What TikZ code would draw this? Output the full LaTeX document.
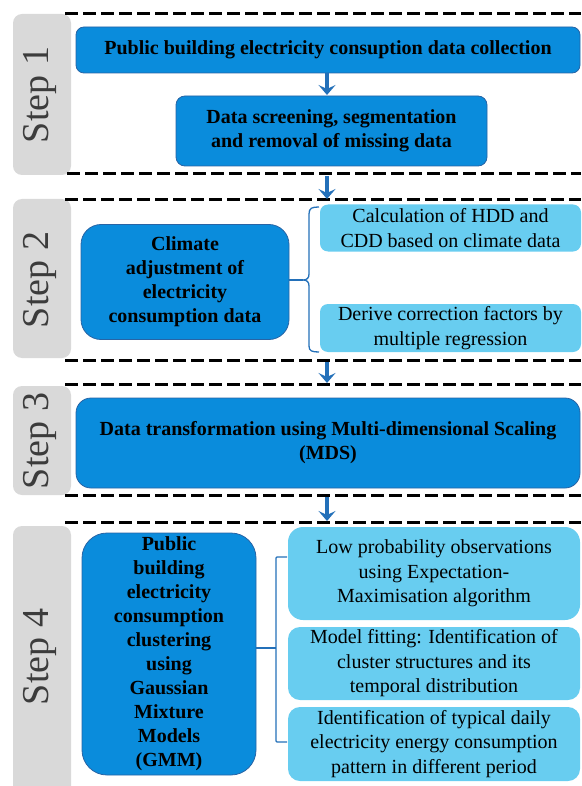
\documentclass[tikz,border=0pt]{standalone}
\usepackage{fontspec}
\setmainfont{Liberation Serif}
\newfontfamily\tnr{Liberation Serif}
\usetikzlibrary{arrows.meta}
\definecolor{dkblue}{RGB}{10,140,220}
\definecolor{dkborder}{RGB}{40,100,165}
\definecolor{ltblue}{RGB}{104,205,240}
\definecolor{tabgrey}{RGB}{217,217,217}
\definecolor{arrblue}{RGB}{35,112,185}
\definecolor{steptext}{RGB}{60,60,60}
\tikzset{
  tabbox/.style={fill=tabgrey, rounded corners=9pt},
  steplabel/.style={rotate=90, text=steptext, font=\tnr\fontsize{38}{40}\selectfont, inner sep=0pt},
  darkbox/.style={fill=dkblue, draw=dkborder, line width=0.8pt, align=center, inner sep=0pt,
    font=\tnr\fontsize{20}{24}\selectfont\bfseries},
  lightbox/.style={fill=ltblue, align=center, inner sep=0pt, font=\tnr\fontsize{20}{24.5}\selectfont},
  sepline/.style={line width=3pt, dash pattern=on 13pt off 5pt},
  flowarrow/.style={arrblue, line width=3.5pt, -{Stealth[length=10pt,width=17pt,inset=4pt]}},
  bracketline/.style={arrblue, line width=1.3pt},
}
\begin{document}
\begin{tikzpicture}[x=1pt,y=-1pt]
\useasboundingbox (0,0) rectangle (581,786);
% step tabs
\fill[tabbox] (13,14) rectangle (71,175);
\fill[tabbox] (13,199) rectangle (71,358);
\fill[tabbox] (13,386) rectangle (71,495);
\fill[tabbox] (13,526) rectangle (71,800);
\node[steplabel] (st1) at (40,95) {Step 1};
\node[steplabel] (st2) at (40,280) {Step 2};
\node[steplabel] (st3) at (40,441) {Step 3};
\node[steplabel] (st4) at (40,657) {Step 4};
% dashed separators
\coordinate (d1a) at (65,14);  \coordinate (d1b) at (581,14);
\coordinate (d2a) at (67,174); \coordinate (d2b) at (581,174);
\coordinate (d3a) at (65,200); \coordinate (d3b) at (581,200);
\coordinate (d4a) at (65,360); \coordinate (d4b) at (581,360);
\coordinate (d5a) at (65,384); \coordinate (d5b) at (581,384);
\coordinate (d6a) at (65,495); \coordinate (d6b) at (581,495);
\coordinate (d7a) at (65,522); \coordinate (d7b) at (581,522);
\foreach \p in {1,...,7} {\draw[sepline] (d\p a) -- (d\p b);}
% step 1
\node[darkbox, rounded corners=8pt, minimum width=504pt, minimum height=46pt] (b1) at (328,50)
  {Public building electricity consuption data collection};
\node[darkbox, rounded corners=9pt, minimum width=311pt, minimum height=70pt] (b2) at (331.5,131)
  {Data screening, segmentation\\and removal of missing data};
\draw[flowarrow] (327,73) -- (327,95);
% step 2
\node[darkbox, rounded corners=20pt, minimum width=208pt, minimum height=115pt] (clim) at (185,282)
  {Climate\\adjustment of\\electricity\\consumption data};
\node[lightbox, rounded corners=8pt, minimum width=261pt, minimum height=47pt] (l1) at (450.5,228)
  {Calculation of HDD and\\CDD based on climate data};
\node[lightbox, rounded corners=8pt, minimum width=261pt, minimum height=48pt] (l2) at (450.5,328)
  {Derive correction factors by\\multiple regression};
\coordinate (br1t) at (319,207);
\coordinate (br1b) at (319,352);
\coordinate (br1m) at (303,280);
\draw[bracketline] (br1t) .. controls (312,207) and (309,208) .. (309,214) -- (309,274)
  .. controls (309,278) and (307,280) .. (br1m) .. controls (307,280) and (309,282) .. (309,286)
  -- (309,346) .. controls (309,351) and (312,352) .. (br1b);
\draw[bracketline] (clim.east |- br1m) -- (br1m);
% step 3
\node[darkbox, rounded corners=15pt, minimum width=504pt, minimum height=90pt] (b3) at (328,443)
  {Data transformation using Multi-dimensional Scaling\\(MDS)};
% step 4
\node[darkbox, rounded corners=25pt, minimum width=174pt, minimum height=242pt] (gmm) at (169,654)
  {Public\\building\\electricity\\consumption\\clustering\\using\\Gaussian\\Mixture\\Models\\(GMM)};
\node[lightbox, rounded corners=15pt, minimum width=292pt, minimum height=93pt] (la) at (434,573.5)
  {Low probability observations\\using Expectation-\\Maximisation algorithm};
\node[lightbox, rounded corners=12pt, minimum width=292pt, minimum height=73pt] (lb) at (434,663.5)
  {Model fitting: Identification of\\cluster structures and its\\temporal distribution};
\node[lightbox, rounded corners=12pt, minimum width=292pt, minimum height=74pt] (lc) at (434,744)
  {Identification of typical daily\\electricity energy consumption\\pattern in different period};
\coordinate (br2t) at (287,557);
\coordinate (br2b) at (287,742);
\coordinate (br2m) at (276,648);
\draw[bracketline] (br2t) -- (277,557) .. controls (276,557) .. (276,558) -- (276,741)
  .. controls (276,742) .. (277,742) -- (br2b);
\draw[bracketline] (gmm.east |- br2m) -- (br2m);
% inter-step arrows
\draw[flowarrow] (327,176) -- (327,199);
\draw[flowarrow] (327,362) -- (327,383);
\draw[flowarrow] (327,497) -- (327,521);
\end{tikzpicture}
\end{document}
